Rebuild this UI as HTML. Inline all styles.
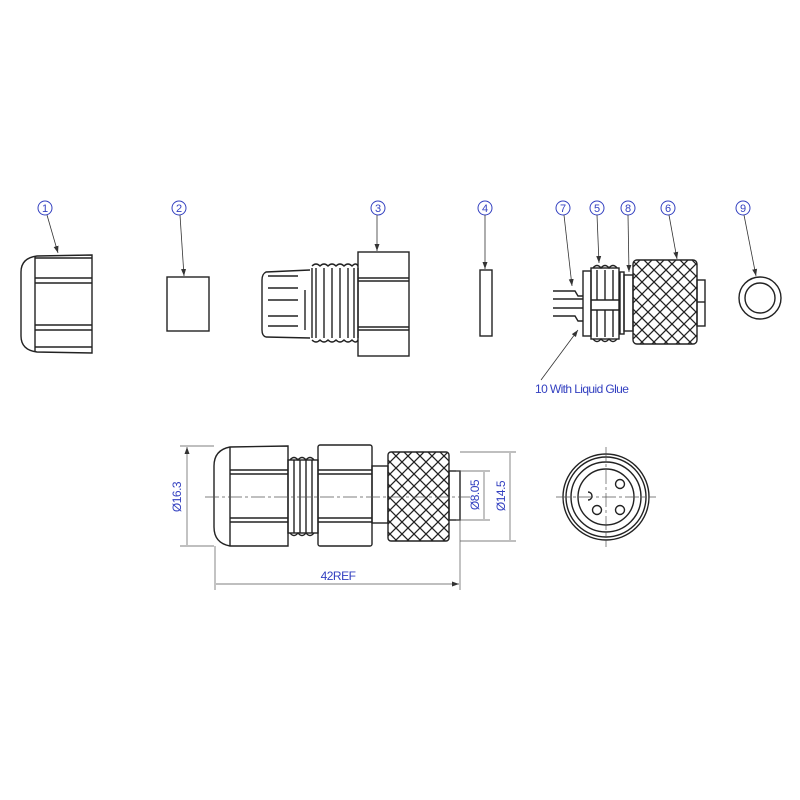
<!DOCTYPE html>
<html><head><style>body{margin:0;background:#fff}svg{display:block}</style></head><body>
<svg width="800" height="800" viewBox="0 0 800 800" xmlns="http://www.w3.org/2000/svg" font-family="Liberation Sans, sans-serif">
<defs>
<pattern id="kn" width="12" height="12" patternUnits="userSpaceOnUse">
<path d="M0 0L12 12M12 0L0 12" stroke="#222" stroke-width="1.3"/>
</pattern>
<marker id="ar" markerWidth="8" markerHeight="8" refX="7" refY="4" orient="auto" markerUnits="userSpaceOnUse"><path d="M0 1.5L7 4L0 6.5z" fill="#333"/></marker>
<marker id="ar2" markerWidth="8" markerHeight="8" refX="1" refY="4" orient="auto" markerUnits="userSpaceOnUse"><path d="M8 1.5L1 4L8 6.5z" fill="#333"/></marker>
</defs>
<rect width="800" height="800" fill="#fff"/>
<g fill="none" stroke="#3340c0" stroke-width="1">
<circle cx="45" cy="208" r="7"/><circle cx="179" cy="208" r="7"/><circle cx="378" cy="208" r="7"/><circle cx="485" cy="208" r="7"/>
<circle cx="563" cy="208" r="7"/><circle cx="597" cy="208" r="7"/><circle cx="628" cy="208" r="7"/><circle cx="668" cy="208" r="7"/><circle cx="743" cy="208" r="7"/>
</g>
<g fill="#3340c0" font-size="11" text-anchor="middle">
<text x="45" y="212">1</text><text x="179" y="212">2</text><text x="378" y="212">3</text><text x="485" y="212">4</text>
<text x="563" y="212">7</text><text x="597" y="212">5</text><text x="628" y="212">8</text><text x="668" y="212">6</text><text x="743" y="212">9</text>
</g>
<text x="535" y="393" fill="#3340c0" font-size="12" letter-spacing="-0.6">10  With Liquid Glue</text>
<g stroke="#333" stroke-width="0.8" fill="none" marker-end="url(#ar)">
<path d="M47 215L58 253"/><path d="M180 215L184 276"/><path d="M377 215L377 251"/><path d="M485 215L485 269"/>
<path d="M564 215L572 286"/><path d="M597 215L599 263"/><path d="M628 215L629 272"/><path d="M669 215L677 259"/><path d="M744 215L756 276"/>
<path d="M541 380L578 330"/>
</g>
<g fill="none" stroke="#222" stroke-width="1.4">
<!-- part 1 -->
<path d="M92 255L37 256Q21 258 21 272L21 336Q21 350 37 352L92 353Z"/>
<path d="M35 256V352M35 258H92M35 278H92M35 283H92M35 325H92M35 330H92M35 347H92"/>
<!-- part 2 -->
<rect x="167" y="277" width="42" height="54"/>
<!-- part 3 -->
<rect x="358" y="252" width="51" height="104"/>
<path d="M358 278H409M358 281H409M358 327H409M358 330H409"/>
<path d="M310 270L266 272Q262 274 262 280L262 330Q262 336 266 337L310 338"/>
<path d="M268 276H298M268 288H298M268 300H298M268 316H298M268 326H298M305 290V330"/>
<path d="M312 268V338M358 268V338"/>
<path d="M312 266Q316 262 320 266Q324 262 328 266Q332 262 336 266Q340 262 344 266Q348 262 352 266Q356 262 358 266"/>
<path d="M312 340Q316 344 320 340Q324 344 328 340Q332 344 336 340Q340 344 344 340Q348 344 352 340Q356 344 358 340"/>
<path d="M316 268V338M324 268V338M332 268V338M340 268V338M348 268V338M354 268V338"/>
<!-- part 4 -->
<rect x="480" y="270" width="12" height="66"/>
<!-- right assembly -->
<path d="M553 291H575L578 296H583M553 299H583M553 308H583M553 316H575L578 321H583"/>
<rect x="583" y="271" width="8" height="65"/>
<rect x="591" y="268" width="28" height="71"/>
<path d="M593 268Q597 263 601 268Q605 263 609 268Q613 263 617 268M593 339Q597 344 601 339Q605 344 609 339Q613 344 617 339"/>
<path d="M597 270V300M605 270V300M613 270V300M597 310V337M605 310V337M613 310V337M591 300H619M591 310H619"/>
<rect x="620" y="272" width="4" height="62"/>
<rect x="624" y="275" width="9" height="56"/>
<rect x="633" y="260" width="64" height="84" rx="4" fill="url(#kn)"/>
<rect x="697" y="280" width="8" height="46"/>
<path d="M697 302H705"/>
<circle cx="760" cy="298" r="21"/><circle cx="760" cy="298" r="15"/>
<!-- bottom assembly -->
<path d="M288 446L230 447Q214 450 214 466L214 527Q214 543 230 546L288 546Z"/>
<path d="M230 447V546M230 470H288M230 474H288M230 518H288M230 522H288"/>
<rect x="288" y="460" width="30" height="73"/>
<path d="M290 460Q294 455 298 460Q302 455 306 460Q310 455 314 460M290 533Q294 538 298 533Q302 538 306 533Q310 538 314 533"/>
<path d="M294 460V533M300 460V533M306 460V533M312 460V533"/>
<rect x="318" y="445" width="54" height="101" rx="2"/>
<path d="M318 470H372M318 474H372M318 518H372M318 522H372"/>
<rect x="372" y="466" width="16" height="57"/>
<rect x="388" y="452" width="61" height="89" rx="3" fill="url(#kn)"/>
<rect x="449" y="471" width="11" height="49"/>
<circle cx="606" cy="497" r="43"/><circle cx="606" cy="497" r="40"/><circle cx="606" cy="497" r="35"/><circle cx="606" cy="497" r="28"/>
<circle cx="620" cy="484" r="4.5"/><circle cx="620" cy="510" r="4.5"/><circle cx="597" cy="510" r="4.5"/>
<path d="M588 492A4 4 0 0 1 588 500"/>
</g>
<g stroke="#555" stroke-width="0.7" fill="none">
<path d="M205 497H470" stroke-dasharray="14 3 3 3"/>
<path d="M556 497H656M606 447V547" stroke-dasharray="14 3 3 3"/>
<path d="M180 446H214M180 546H214M456 471H490M456 520H490M460 452H516M460 541H516M215 546V590M460 520V590"/>
<path d="M187 447V545M484 472V519M510 453V540M216 584H459" marker-start="url(#ar2)" marker-end="url(#ar)"/>
</g>
<g fill="#3340c0" font-size="12">
<text transform="translate(181 497) rotate(-90)" text-anchor="middle" letter-spacing="-0.5">Ø16.3</text>
<text transform="translate(479 495) rotate(-90)" text-anchor="middle" letter-spacing="-0.5">Ø8.05</text>
<text transform="translate(505 496) rotate(-90)" text-anchor="middle" letter-spacing="-0.5">Ø14.5</text>
<text x="338" y="580" text-anchor="middle" letter-spacing="-0.5">42REF</text>
</g>
</svg>
</body></html>
